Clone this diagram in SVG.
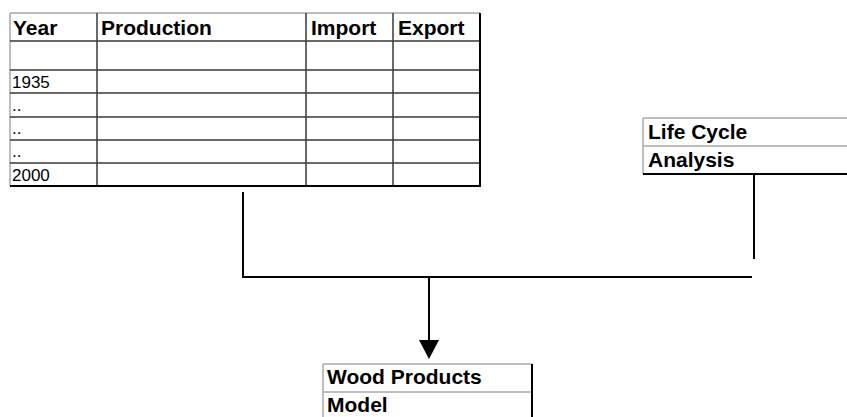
<svg xmlns="http://www.w3.org/2000/svg" width="847" height="417" viewBox="0 0 847 417">
<style>
.hdr{font-family:"Liberation Sans",Arial,sans-serif;font-weight:bold;font-size:21px;fill:#000}
.dat{font-family:"Liberation Sans",Arial,sans-serif;font-size:17px;fill:#000}
.lt{stroke:#a8a8a8;stroke-width:1.5;fill:none}
.in{stroke:#3a3a3a;stroke-width:1.5;fill:none}
.dk{stroke:#000;stroke-width:2;fill:none}
.con{stroke:#000;stroke-width:2;fill:none}
</style>
<rect width="847" height="417" fill="#fff"/>
<g id="table">
<line class="lt" x1="10" y1="13" x2="480" y2="13"/>
<line class="lt" x1="10" y1="13" x2="10" y2="186"/>
<path class="in" d="M10 41H480M10 70H480M10 93H480M10 117H480M10 140H480M10 163H480M97 13V186M306 13V186M393 13V186"/>
<line class="dk" x1="480" y1="13" x2="480" y2="187"/>
<line class="dk" x1="10" y1="186" x2="480" y2="186"/>
<text class="hdr" x="13" y="35">Year</text>
<text class="hdr" x="101" y="35">Production</text>
<text class="hdr" x="311" y="35">Import</text>
<text class="hdr" x="398" y="35">Export</text>
<text class="dat" x="12" y="88">1935</text>
<text class="dat" x="12" y="111">..</text>
<text class="dat" x="12" y="134">..</text>
<text class="dat" x="12" y="157">..</text>
<text class="dat" x="12" y="181">2000</text>
</g>
<g id="lca">
<line class="lt" x1="643" y1="118" x2="847" y2="118"/>
<line class="lt" x1="643" y1="118" x2="643" y2="174"/>
<line class="lt" x1="643" y1="146" x2="847" y2="146"/>
<line class="dk" x1="643" y1="174" x2="847" y2="174"/>
<text class="hdr" x="648" y="139">Life Cycle</text>
<text class="hdr" x="648" y="167">Analysis</text>
</g>
<g id="wpm">
<line class="lt" x1="323" y1="364" x2="532" y2="364"/>
<line class="lt" x1="323" y1="364" x2="323" y2="417"/>
<line class="lt" x1="323" y1="392" x2="532" y2="392"/>
<line class="dk" x1="532" y1="364" x2="532" y2="417"/>
<text class="hdr" x="327" y="384">Wood Products</text>
<text class="hdr" x="327" y="412">Model</text>
</g>
<g id="connectors">
<polyline class="con" points="243,192 243,277 752,277"/>
<line class="con" x1="754" y1="175" x2="754" y2="259"/>
<line class="con" x1="429" y1="277" x2="429" y2="342"/>
<polygon points="419,340 439,340 429,359" fill="#000"/>
</g>
</svg>
